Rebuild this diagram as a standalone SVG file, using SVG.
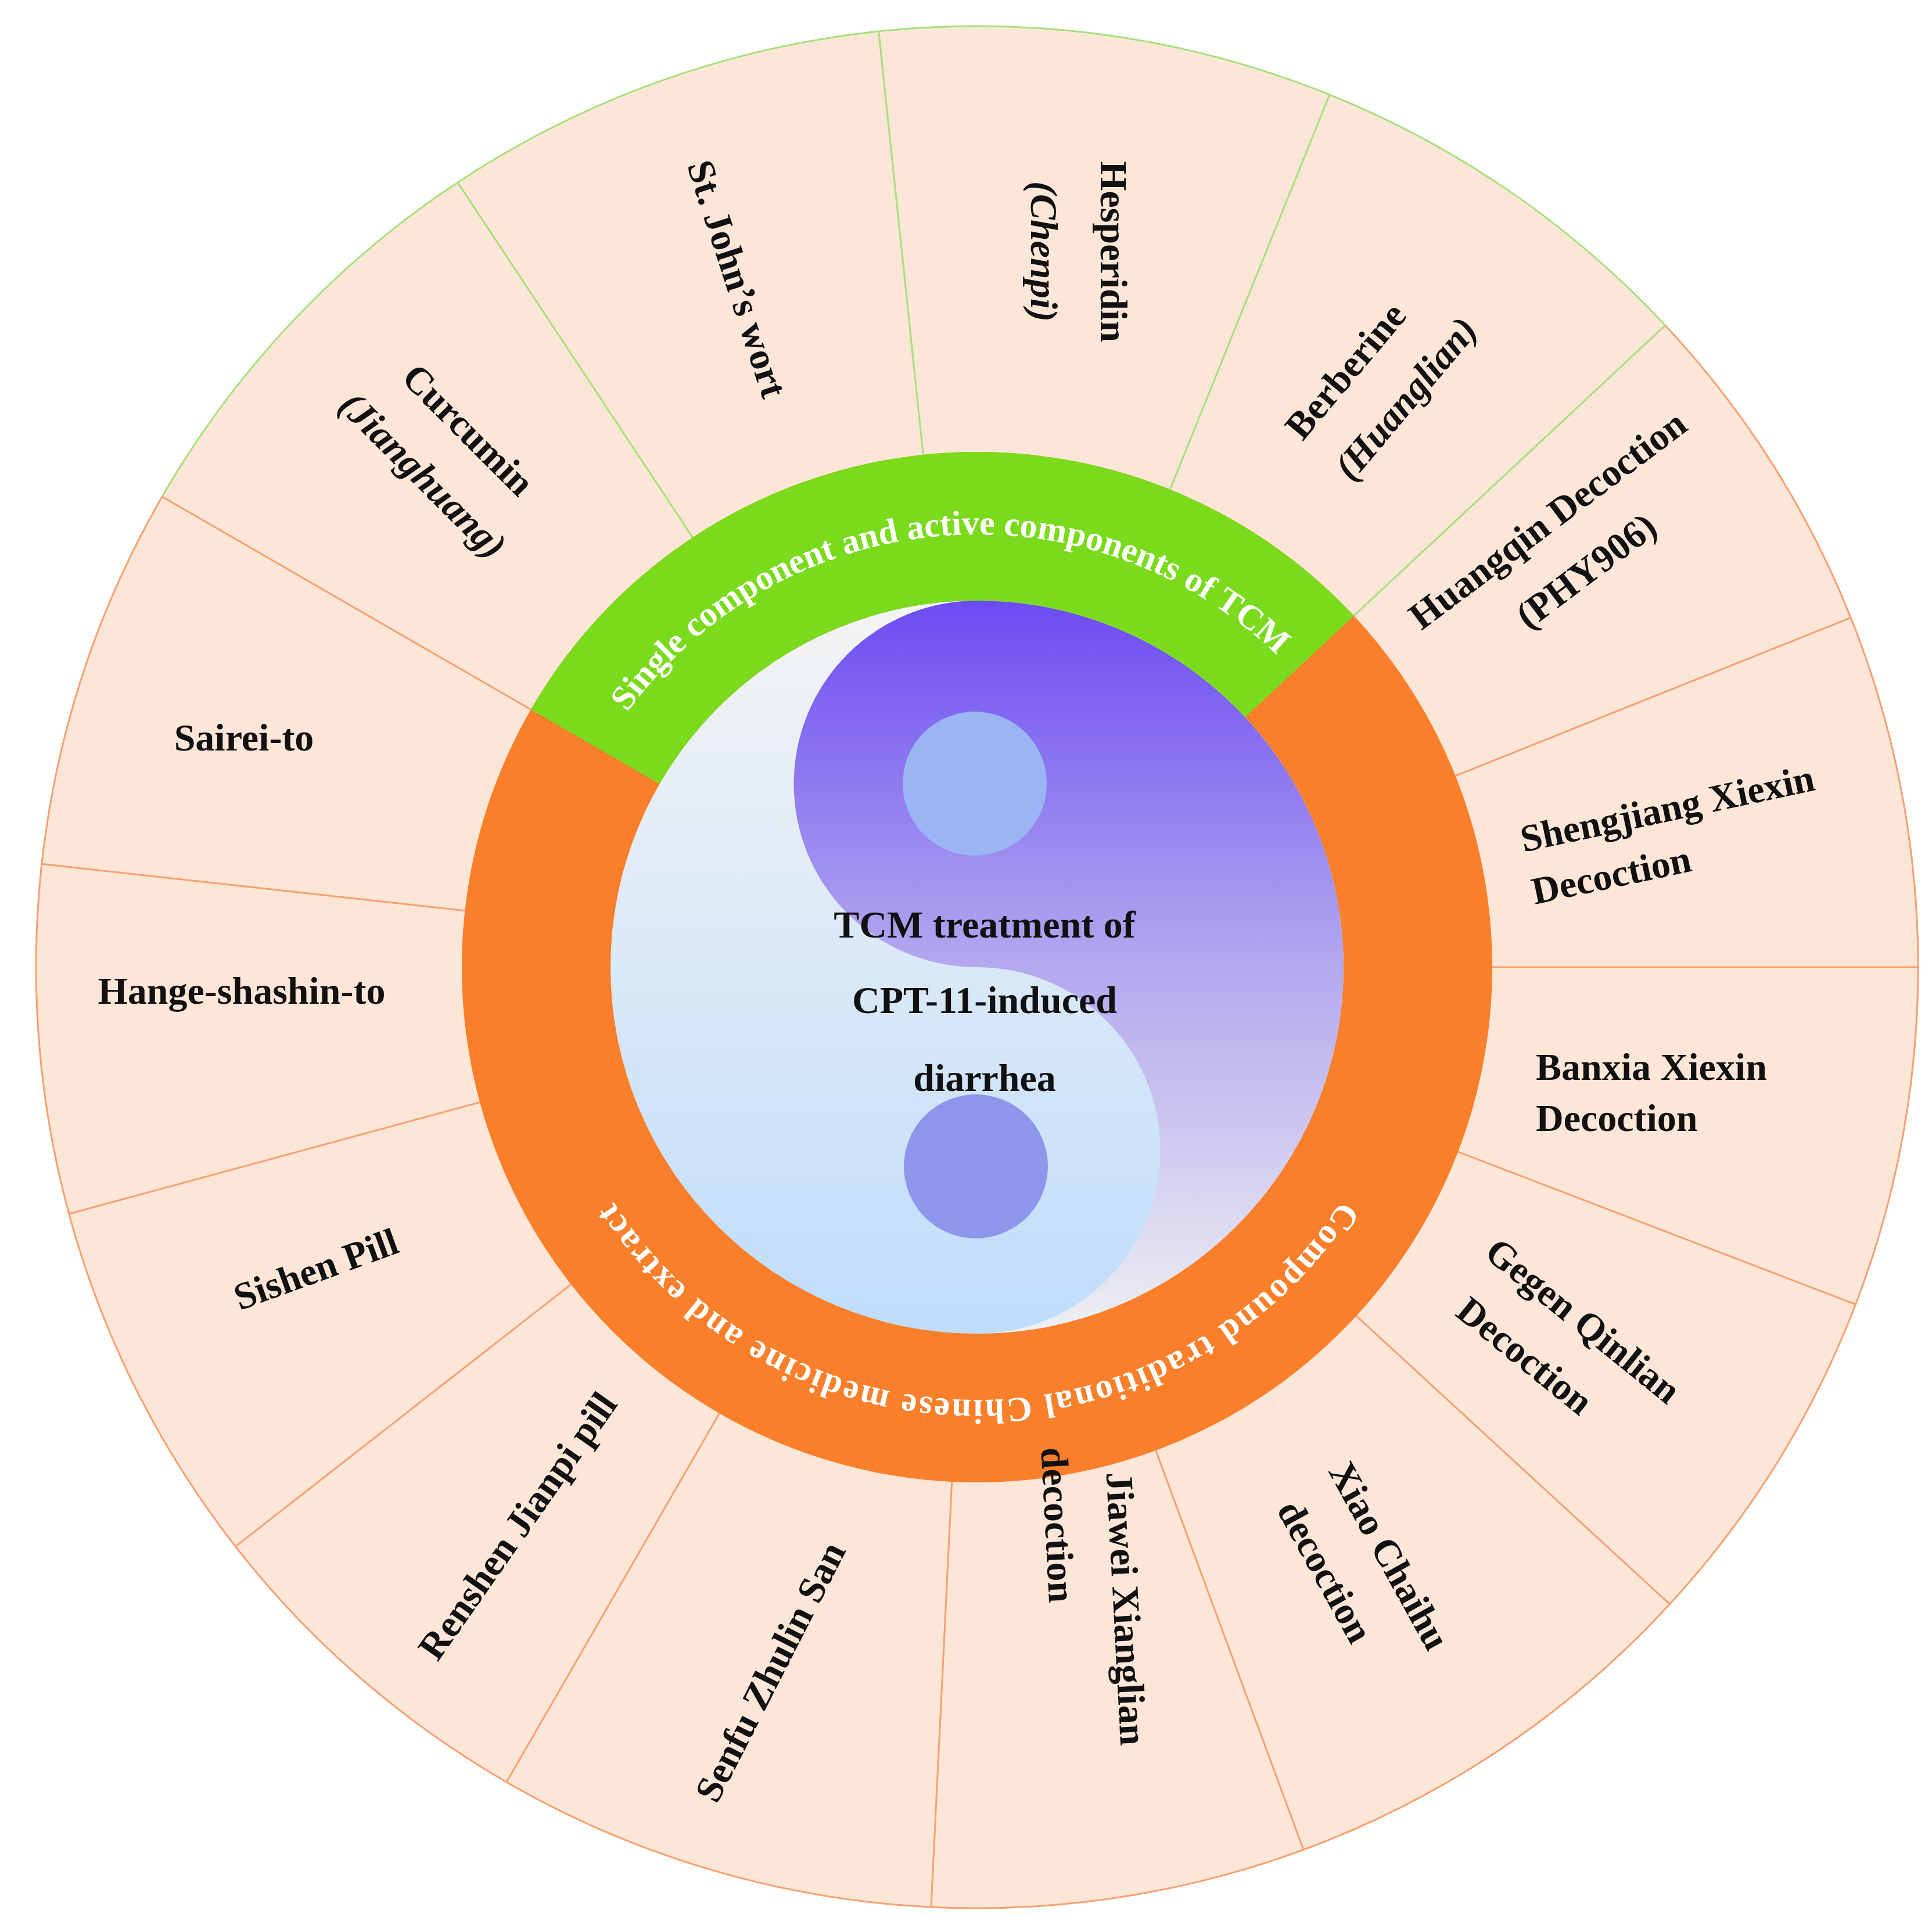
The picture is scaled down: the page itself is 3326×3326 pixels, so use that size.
<svg xmlns="http://www.w3.org/2000/svg" width="3326" height="3326" viewBox="0 0 3326 3326">
<style>
.lbl{font-family:"Liberation Serif","Times New Roman",serif;font-weight:bold;font-size:66px;fill:#111}
.it{font-style:italic}
.ring{font-family:"Liberation Serif","Times New Roman",serif;font-weight:bold;font-size:60px;fill:#fff}
.dg{stroke:#A6E07A;stroke-width:3}
.do{stroke:#F6A070;stroke-width:3}
</style>
<defs>
<linearGradient id="bg" x1="0" y1="0" x2="0" y2="1"><stop offset="0" stop-color="#F4F4F4"/><stop offset="1" stop-color="#BFDDFB"/></linearGradient>
<linearGradient id="pu" x1="0" y1="0" x2="0" y2="1"><stop offset="0" stop-color="#6B4CF2"/><stop offset="0.5" stop-color="#B4A8EE"/><stop offset="1" stop-color="#EEF0F2"/></linearGradient>
<path id="tg" d="M 1006.8 1350.2 A 745 745 0 0 1 2292.3 1237.7"/>
<path id="to" d="M 2401.6 1857.8 A 745 745 0 0 1 962.4 1857.8"/>
</defs>
<rect width="3326" height="3326" fill="#fff"/>
<g id="outer">
<circle cx="1682" cy="1665" r="1620" fill="#FCE6D7"/>
<path d="M 279.1 855 A 1620 1620 0 0 1 2866.9 560.2" fill="none" class="dg"/>
<path d="M 2866.9 560.2 A 1620 1620 0 1 1 279.1 855" fill="none" class="do"/>
</g>
<g id="connectors">
<line class="dg" x1="1192.5" y1="925.3" x2="787.9" y2="314.1"/>
<line class="dg" x1="1589.3" y1="782.9" x2="1512.7" y2="53.9"/>
<line class="dg" x1="2014.3" y1="842.6" x2="2288.9" y2="163"/>
<line class="dg" x1="2330.7" y1="1060.1" x2="2866.9" y2="560.2"/>
<line class="do" x1="2505.6" y1="1335.6" x2="3186.2" y2="1063.3"/>
<line class="do" x1="2569" y1="1665" x2="3302" y2="1665"/>
<line class="do" x1="2510.1" y1="1982.9" x2="3194.4" y2="2245.6"/>
<line class="do" x1="2334.9" y1="2265.4" x2="2874.5" y2="2761.6"/>
<line class="do" x1="1989.7" y1="2496.9" x2="2244" y2="3184.4"/>
<line class="do" x1="1638.7" y1="2550.9" x2="1602.9" y2="3283.1"/>
<line class="do" x1="1238.5" y1="2433.1" x2="872" y2="3068"/>
<line class="do" x1="983" y1="2211.1" x2="405.4" y2="2662.4"/>
<line class="do" x1="826" y1="1897.6" x2="118.7" y2="2089.8"/>
<line class="do" x1="800.3" y1="1567.7" x2="71.7" y2="1487.3"/>
<line class="do" x1="913.9" y1="1221.5" x2="279.1" y2="855"/>
</g>
<g id="ring">
<circle cx="1682" cy="1665" r="887" fill="#FA7F2A"/>
<path d="M 913.8 1221.5 A 887 887 0 0 1 2330.7 1060.1 L 2143.5 1234.7 A 631 631 0 0 0 1135.5 1349.5 Z" fill="#7ADA1C"/>
<text class="ring"><textPath href="#tg" startOffset="50%" text-anchor="middle">Single component and active components of TCM</textPath></text>
<text class="ring" font-size="64"><textPath href="#to" startOffset="50%" text-anchor="middle" letter-spacing="3">Compound traditional Chinese medicine and extract</textPath></text>
</g>
<g id="center">
<circle cx="1682" cy="1665" r="631" fill="url(#bg)"/>
<path d="M 1682 1034 A 631 631 0 0 1 1682 2296 A 315.5 315.5 0 0 0 1682 1665 A 315.5 315.5 0 0 1 1682 1034 Z" fill="url(#pu)"/>
<circle cx="1678" cy="1349" r="124" fill="#9AB4F4"/>
<circle cx="1680" cy="2008" r="124" fill="#8E96EC"/>
<text class="lbl" font-size="104" text-anchor="middle" x="1695" y="1614">TCM treatment of</text>
<text class="lbl" font-size="104" text-anchor="middle" x="1695" y="1744">CPT-11-induced</text>
<text class="lbl" font-size="104" text-anchor="middle" x="1695" y="1878">diarrhea</text>
</g>
<g id="n1"><text class="lbl" text-anchor="middle" x="420" y="1292">Sairei-to</text></g>
<g id="n2"><text class="lbl" text-anchor="middle" x="416" y="1728">Hange-shashin-to</text></g>
<g id="n3"><text class="lbl" text-anchor="middle" transform="translate(544,2185) rotate(-20)" y="22">Sishen Pill</text></g>
<g id="n4"><text class="lbl" text-anchor="middle" transform="translate(891,2627) rotate(-55)" y="22">Renshen Jianpi pill</text></g>
<g id="n5"><text class="lbl" text-anchor="middle" transform="translate(1326,2878) rotate(-63)" y="22">Senfu Zhulin San</text></g>
<g id="n6"><text class="lbl" text-anchor="middle" transform="translate(1885,2772) rotate(87)"><tspan x="0" y="-32">Jiawei Xianglian</tspan><tspan x="-150" y="78">decoction</tspan></text></g>
<g id="n7"><text class="lbl" text-anchor="middle" transform="translate(2335,2687) rotate(61)"><tspan x="20" y="-32">Xiao Chaihu</tspan><tspan x="-10" y="78">decoction</tspan></text></g>
<g id="n8"><text class="lbl" text-anchor="middle" transform="translate(2676,2303) rotate(39)"><tspan x="20" y="-32">Gegen Qinlian</tspan><tspan x="-20" y="78">Decoction</tspan></text></g>
<g id="n9"><text class="lbl" x="2644" y="1859">Banxia Xiexin<tspan x="2644" y="1947">Decoction</tspan></text></g>
<g id="n10"><text class="lbl" transform="translate(2623,1467) rotate(-12)">Shengjiang Xiexin<tspan x="0" y="92">Decoction</tspan></text></g>
<g id="n11"><text class="lbl" text-anchor="middle" transform="translate(2697,938) rotate(-37)"><tspan x="0" y="-32">Huangqin Decoction</tspan><tspan x="0" y="78">(PHY906)</tspan></text></g>
<g id="n12"><text class="lbl" text-anchor="middle" transform="translate(2377,650) rotate(-50)"><tspan x="-30" y="-32">Berberine</tspan><tspan class="it" x="0" y="78">(Huanglian)</tspan></text></g>
<g id="n13"><text class="lbl" text-anchor="middle" transform="translate(1855,433) rotate(90)"><tspan x="0" y="-40">Hesperidin</tspan><tspan class="it" x="0" y="80">(Chenpi)</tspan></text></g>
<g id="n14"><text class="lbl" text-anchor="middle" transform="translate(1269,480) rotate(72)" y="22">St. John’s wort</text></g>
<g id="n15"><text class="lbl" text-anchor="middle" transform="translate(768,778) rotate(45)"><tspan x="0" y="-32">Curcumin</tspan><tspan class="it" x="0" y="78">(Jianghuang)</tspan></text></g>
</svg>
